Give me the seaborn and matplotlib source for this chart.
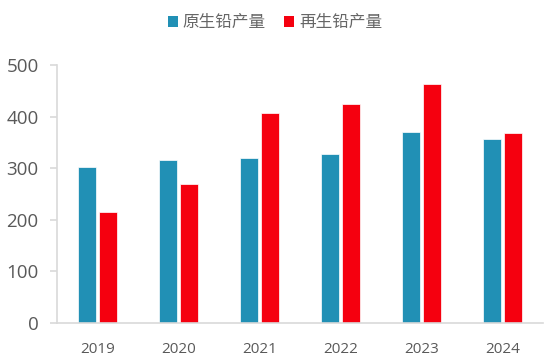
import pandas as pd
import seaborn as sns
import matplotlib.pyplot as plt
from matplotlib.patches import Patch

years = ["2019", "2020", "2021", "2022", "2023", "2024"]
primary = [302, 316, 319, 328, 371, 357]
secondary = [214, 269, 407, 425, 464, 368]
series_names = ["原生铅产量", "再生铅产量"]
colors = ["#2190b5", "#f5000f"]

df = pd.DataFrame({
    "year": years * 2,
    "value": primary + secondary,
    "series": [series_names[0]] * len(years) + [series_names[1]] * len(years),
})

sns.set_theme(style="white")
plt.rcParams["font.family"] = ["Noto Sans CJK SC", "DejaVu Sans"]

fig = plt.figure(figsize=(5.5, 3.6), dpi=100)
ax = fig.add_axes([0.1036, 0.104, 0.8834, 0.715])

sns.barplot(data=df, x="year", y="value", hue="series", palette=colors,
            saturation=1, width=0.52, gap=0.12, edgecolor="#ffffff",
            linewidth=0.5, legend=False, ax=ax)

ax.set_xlim(-0.5, 5.5)
ax.set_ylim(0, 500)
ax.set_yticks([0, 100, 200, 300, 400, 500])
ax.set_xlabel("")
ax.set_ylabel("")

for side in ["top", "right"]:
    ax.spines[side].set_visible(False)
for side in ["left", "bottom"]:
    ax.spines[side].set_color("#d9d9d9")
    ax.spines[side].set_linewidth(1.2)

ax.tick_params(axis="y", left=True, length=4.8, width=1.2, color="#d9d9d9",
               labelsize=13.5, labelcolor="#595959", pad=8.5)
ax.tick_params(axis="x", bottom=False, labelsize=11, labelcolor="#595959", pad=8)
for lbl in ax.get_yticklabels() + ax.get_xticklabels():
    lbl.set_family(["Open Sans", "DejaVu Sans"])

handles = [Patch(facecolor=c, edgecolor="none") for c in colors]
fig.legend(handles, series_names, loc="center", bbox_to_anchor=(0.5, 0.937),
           ncol=2, frameon=False, fontsize=12, handlelength=0.6, handleheight=0.6,
           handletextpad=0.3, columnspacing=1.1, labelcolor="#666666")

fig.savefig("out.png", dpi=100)
